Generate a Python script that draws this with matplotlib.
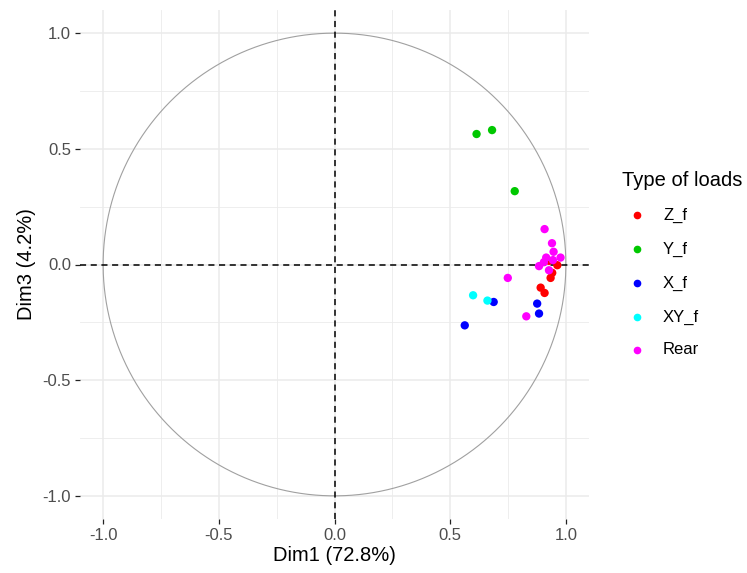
import numpy as np
import matplotlib
matplotlib.use("Agg")
import matplotlib.pyplot as plt
from matplotlib.lines import Line2D

plt.rcParams['font.family'] = ['Liberation Sans', 'DejaVu Sans']

groups = ["Z_f", "Y_f", "X_f", "XY_f", "Rear"]
colors = ["#FF0000", "#00C800", "#0000FF", "#00FFFF", "#FF00FF"]

z_x = [0.927, 0.963, 0.941, 0.934, 0.891, 0.908]
z_y = [0.016, -0.003, -0.036, -0.058, -0.100, -0.123]
y_x = [0.614, 0.681, 0.779]
y_y = [0.564, 0.581, 0.317]
x_x = [0.688, 0.876, 0.884, 0.563]
x_y = [-0.162, -0.169, -0.212, -0.263]
xy_x = [0.599, 0.661]
xy_y = [-0.133, -0.156]
r_x = [0.908, 0.940, 0.947, 0.915, 0.977, 0.944, 0.884, 0.927, 0.749, 0.829, 0.905]
r_y = [0.153, 0.092, 0.055, 0.030, 0.030, 0.019, -0.007, -0.025, -0.058, -0.224, 0.010]

series = [(z_x, z_y), (y_x, y_y), (x_x, x_y), (xy_x, xy_y), (r_x, r_y)]

x_label = "Dim1 (72.8%)"
y_label = "Dim3 (4.2%)"
legend_title = "Type of loads"
ticks = [-1.0, -0.5, 0.0, 0.5, 1.0]
tick_labels = ["-1.0", "-0.5", "0.0", "0.5", "1.0"]

W, H = 747, 573
fig = plt.figure(figsize=(W / 100, H / 100), dpi=100)
ax = fig.add_axes([80 / W, (H - 519) / H, 509 / W, 509 / H])
ax.set_xlim(-1.1, 1.1)
ax.set_ylim(-1.1, 1.1)

for s in ax.spines.values():
    s.set_visible(False)

# grid
minor = [-0.75, -0.25, 0.25, 0.75]
ax.set_xticks(ticks)
ax.set_yticks(ticks)
ax.set_xticks(minor, minor=True)
ax.set_yticks(minor, minor=True)
ax.set_xticklabels(tick_labels)
ax.set_yticklabels(tick_labels)
ax.grid(True, which='major', color='#EBEBEB', linewidth=1.1)
ax.grid(True, which='minor', color='#EBEBEB', linewidth=0.6)
ax.set_axisbelow(True)
ax.tick_params(which='major', length=3.5, width=0.9, color='#222222',
               labelsize=12, labelcolor='#4D4D4D', pad=3)
ax.tick_params(which='minor', length=0)

# circle
theta = np.linspace(0, 2 * np.pi, 400)
ax.plot(np.cos(theta), np.sin(theta), color='#A0A0A0', linewidth=0.8, zorder=2)

ax.axhline(0, color='black', linestyle=(0, (4, 3)), linewidth=1.1, zorder=3)
ax.axvline(0, color='black', linestyle=(0, (4, 3)), linewidth=1.1, zorder=3)

for (xs, ys), c, g in zip(series, colors, groups):
    ax.scatter(xs, ys, s=36, color=c, edgecolors='none', zorder=4, label=g)

ax.set_xlabel(x_label, fontsize=14.5, color='black', labelpad=2)
ax.set_ylabel(y_label, fontsize=14.5, color='black', labelpad=5)

# legend (manual)
fig.text(622 / W, 1 - 180 / H, legend_title, fontsize=14.5, va='center', ha='left')
rows = [215, 249, 283, 317, 350]
for g, c, yy in zip(groups, colors, rows):
    fig.add_artist(Line2D([637 / W], [1 - yy / H], marker='o', markersize=4.5,
                          color=c, linestyle='none', transform=fig.transFigure))
    fig.text(663 / W, 1 - yy / H, g, fontsize=12, va='center', ha='left')

fig.savefig("out.png", dpi=100)
